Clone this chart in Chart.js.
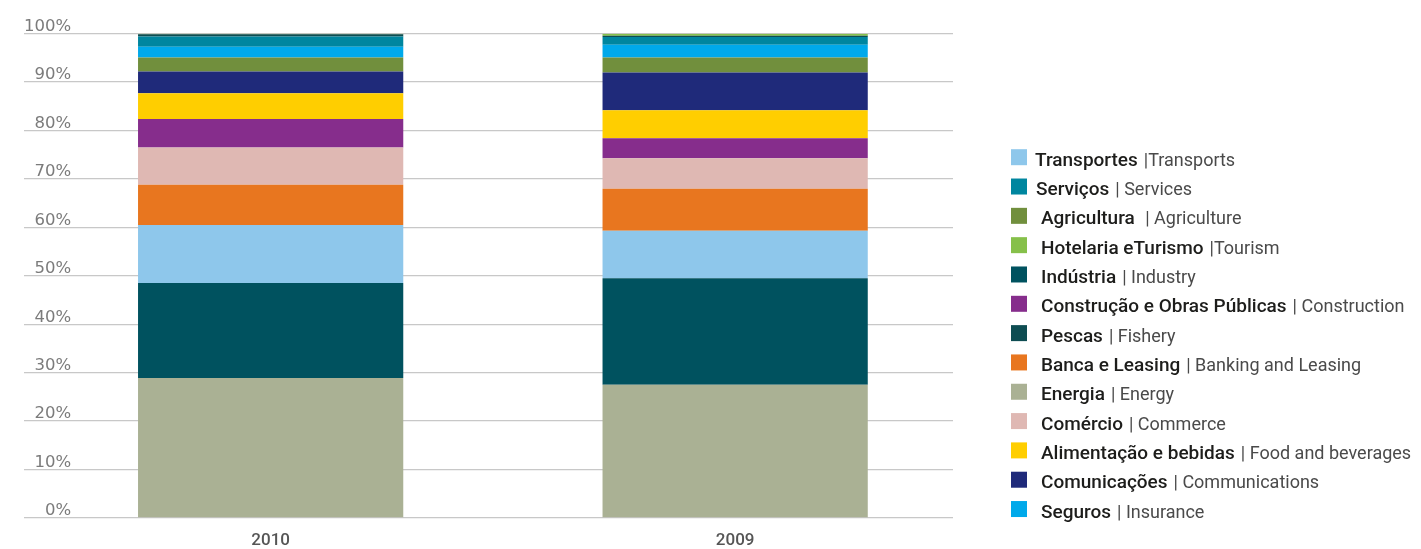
<!DOCTYPE html>
<html>
<head>
<meta charset="utf-8">
<script src="https://cdn.jsdelivr.net/npm/chart.js@4/dist/chart.umd.min.js"></script>
<style>
  html, body { margin: 0; padding: 0; background: #ffffff; }
  #wrap { position: relative; width: 1421px; height: 549px; }
</style>
</head>
<body>
<div id="wrap"><canvas id="c"></canvas></div>
<script>
// ---------------- DATA ----------------
const categories = ['2010', '2009'];

// stacking order, bottom to top
const sectors = [
  'Energia', 'Indústria', 'Transportes', 'Banca e Leasing', 'Comércio',
  'Construção e Obras Públicas', 'Alimentação e bebidas', 'Comunicações',
  'Agricultura', 'Seguros', 'Serviços', 'Pescas', 'Hotelaria e Turismo'
];
const values2010 = [28.9, 19.6, 12.0, 8.3, 7.7, 5.9, 5.3, 4.5, 2.9, 2.2, 2.1, 0.5, 0.1];
const values2009 = [27.5, 22.0, 9.8, 8.7, 6.3, 4.1, 5.8, 7.8, 3.1, 2.6, 1.6, 0.3, 0.4];

const yTickValues = [0, 10, 20, 30, 40, 50, 60, 70, 80, 90, 100];

// legend, top to bottom
const legendOrder = [
  'Transportes', 'Serviços', 'Agricultura', 'Hotelaria e Turismo', 'Indústria',
  'Construção e Obras Públicas', 'Pescas', 'Banca e Leasing', 'Energia', 'Comércio',
  'Alimentação e bebidas', 'Comunicações', 'Seguros'
];
const legendPt = [
  'Transportes', 'Serviços', 'Agricultura', 'Hotelaria eTurismo', 'Indústria',
  'Construção e Obras Públicas', 'Pescas', 'Banca e Leasing', 'Energia', 'Comércio',
  'Alimentação e bebidas', 'Comunicações', 'Seguros'
];
const legendEn = [
  '|Transports', '| Services', ' | Agriculture', '|Tourism', '| Industry',
  '| Construction', '| Fishery', '| Banking and Leasing', '| Energy', '| Commerce',
  '| Food and beverages', '| Communications', '| Insurance'
];

// ---------------- STYLE ----------------
const sectorColors = {
  'Energia': '#AAB194',
  'Indústria': '#00525F',
  'Transportes': '#8EC7EB',
  'Banca e Leasing': '#E8761F',
  'Comércio': '#DFB8B3',
  'Construção e Obras Públicas': '#862D8C',
  'Alimentação e bebidas': '#FFCE00',
  'Comunicações': '#1F2A7A',
  'Agricultura': '#718F3D',
  'Seguros': '#00A9EA',
  'Serviços': '#00869F',
  'Pescas': '#0E4D52',
  'Hotelaria e Turismo': '#86C04A'
};
const LEG = {
  boxX: 1011, boxSize: 16, firstCenter: 157.2, step: 29.32,
  textX: 1035, indent: [0, 1, 6, 6, 6, 6, 6, 6, 6, 6, 6, 6, 6],
  gap: 6, baselineOffset: 8.5,
  ptFont: '500 19px Roboto', enFont: '400 18px Roboto',
  ptColor: '#1d1d1b', enColor: '#4a4a4a'
};

const datasets = sectors.map((name, i) => ({
  label: name,
  data: categories.map((c, j) => ({ x: j, y: (j === 0 ? values2010 : values2009)[i] })),
  backgroundColor: sectorColors[name],
  borderWidth: 0,
  stack: 'total',
  barPercentage: 0.571,
  categoryPercentage: 1.0
}));

const legendPlugin = {
  id: 'sectorLegend',
  afterDraw(chart) {
    const ctx = chart.ctx;
    ctx.save();
    ctx.textBaseline = 'alphabetic';
    ctx.textAlign = 'left';
    legendOrder.forEach((name, i) => {
      const cy = LEG.firstCenter + i * LEG.step;
      ctx.fillStyle = sectorColors[name];
      ctx.fillRect(LEG.boxX, cy - LEG.boxSize / 2, LEG.boxSize, LEG.boxSize);
      let x = LEG.textX + LEG.indent[i];
      ctx.font = LEG.ptFont;
      ctx.fillStyle = LEG.ptColor;
      ctx.fillText(legendPt[i], x, cy + LEG.baselineOffset);
      x += ctx.measureText(legendPt[i]).width + LEG.gap;
      ctx.font = LEG.enFont;
      ctx.fillStyle = LEG.enColor;
      ctx.fillText(legendEn[i], x, cy + LEG.baselineOffset);
    });
    ctx.restore();
  }
};

new Chart(document.getElementById('c'), {
  type: 'bar',
  data: { datasets },
  plugins: [legendPlugin],
  options: {
    responsive: true,
    maintainAspectRatio: false,
    animation: false,
    layout: { padding: { left: 24, right: 468, top: 33.7, bottom: 0 } },
    plugins: { legend: { display: false }, tooltip: { enabled: false } },
    scales: {
      x: {
        type: 'linear',
        offset: false,
        min: -0.531,
        max: 1.469,
        grid: { display: false, drawTicks: false },
        border: { display: false },
        afterBuildTicks: (s) => { s.ticks = categories.map((c, i) => ({ value: i })); },
        afterFit: (s) => { s.height = 31; },
        ticks: {
          callback: (v) => categories[v],
          color: '#555555',
          padding: 12.3,
          maxRotation: 0,
          font: { family: 'Roboto', size: 17, weight: '500' }
        }
      },
      y: {
        stacked: true,
        min: 0,
        max: 100,
        grid: { color: '#c8c8c8', lineWidth: 1.3, drawTicks: false },
        border: { display: false },
        afterBuildTicks: (s) => { s.ticks = yTickValues.map(v => ({ value: v })); },
        ticks: {
          mirror: true,
          crossAlign: 'far',
          padding: 0,
          labelOffset: -7,
          color: '#7b7b7b',
          callback: (v) => v + '%',
          font: { family: 'DejaVu Sans', size: 16.5 }
        }
      }
    }
  }
});
</script>
</body>
</html>
